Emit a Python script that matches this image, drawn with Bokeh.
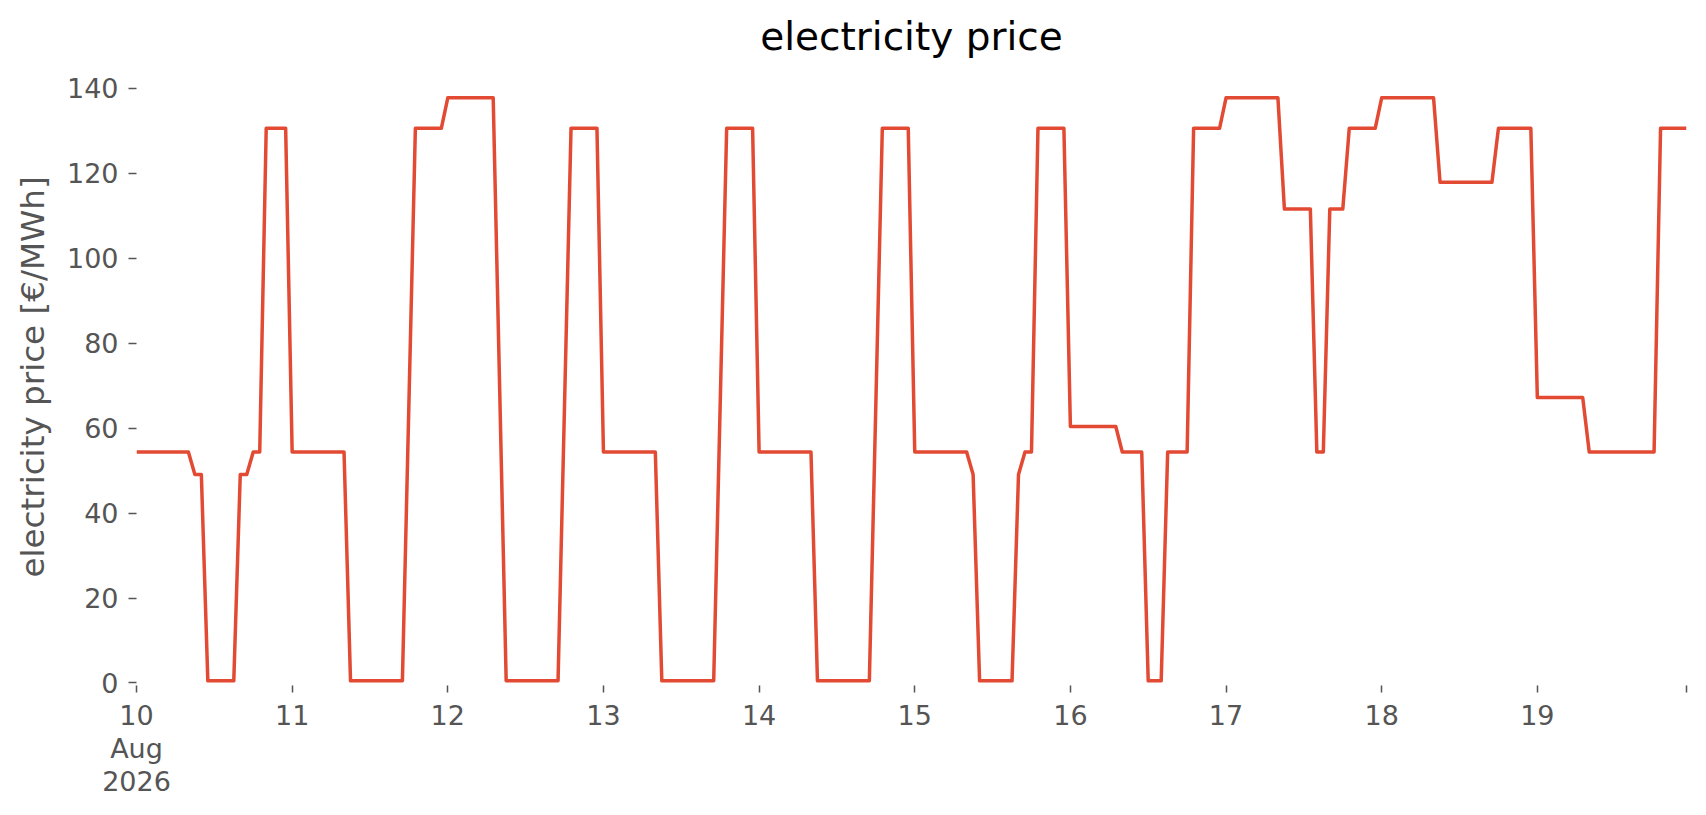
import pandas as pd
from bokeh.plotting import figure
from bokeh.models import Range1d, FixedTicker
from bokeh.embed import file_html
from bokeh.resources import INLINE

# hourly electricity price [€/MWh], one list per day (00:00 ... 23:00)
day_10 = [54.4, 54.4, 54.4, 54.4, 54.4, 54.4, 54.4, 54.4, 54.4, 49.1, 49.1, 0.5,
          0.5, 0.5, 0.5, 0.5, 49.1, 49.1, 54.4, 54.4, 130.6, 130.6, 130.6, 130.6]
day_11 = [54.4, 54.4, 54.4, 54.4, 54.4, 54.4, 54.4, 54.4, 54.4, 0.5, 0.5, 0.5,
          0.5, 0.5, 0.5, 0.5, 0.5, 0.5, 65.5, 130.6, 130.6, 130.6, 130.6, 130.6]
day_12 = [137.8, 137.8, 137.8, 137.8, 137.8, 137.8, 137.8, 137.8, 69.2, 0.5, 0.5, 0.5,
          0.5, 0.5, 0.5, 0.5, 0.5, 0.5, 65.5, 130.6, 130.6, 130.6, 130.6, 130.6]
day_13 = [54.4, 54.4, 54.4, 54.4, 54.4, 54.4, 54.4, 54.4, 54.4, 0.5, 0.5, 0.5,
          0.5, 0.5, 0.5, 0.5, 0.5, 0.5, 65.5, 130.6, 130.6, 130.6, 130.6, 130.6]
day_14 = [54.4, 54.4, 54.4, 54.4, 54.4, 54.4, 54.4, 54.4, 54.4, 0.5, 0.5, 0.5,
          0.5, 0.5, 0.5, 0.5, 0.5, 0.5, 65.5, 130.6, 130.6, 130.6, 130.6, 130.6]
day_15 = [54.4, 54.4, 54.4, 54.4, 54.4, 54.4, 54.4, 54.4, 54.4, 49.1, 0.5, 0.5,
          0.5, 0.5, 0.5, 0.5, 49.1, 54.4, 54.4, 130.6, 130.6, 130.6, 130.6, 130.6]
day_16 = [60.4, 60.4, 60.4, 60.4, 60.4, 60.4, 60.4, 60.4, 54.4, 54.4, 54.4, 54.4,
          0.5, 0.5, 0.5, 54.4, 54.4, 54.4, 54.4, 130.6, 130.6, 130.6, 130.6, 130.6]
day_17 = [137.8, 137.8, 137.8, 137.8, 137.8, 137.8, 137.8, 137.8, 137.8, 111.6, 111.6, 111.6,
          111.6, 111.6, 54.4, 54.4, 111.6, 111.6, 111.6, 130.6, 130.6, 130.6, 130.6, 130.6]
day_18 = [137.8, 137.8, 137.8, 137.8, 137.8, 137.8, 137.8, 137.8, 137.8, 117.9, 117.9, 117.9,
          117.9, 117.9, 117.9, 117.9, 117.9, 117.9, 130.6, 130.6, 130.6, 130.6, 130.6, 130.6]
day_19 = [67.2, 67.2, 67.2, 67.2, 67.2, 67.2, 67.2, 67.2, 54.4, 54.4, 54.4, 54.4,
          54.4, 54.4, 54.4, 54.4, 54.4, 54.4, 54.4, 130.6, 130.6, 130.6, 130.6, 130.6]

start_time = "2026-08-10 00:00"
x_tick_times = ["2026-08-10", "2026-08-11", "2026-08-12", "2026-08-13", "2026-08-14",
                "2026-08-15", "2026-08-16", "2026-08-17", "2026-08-18", "2026-08-19",
                "2026-08-19 23:00"]
x_tick_labels = ["10\nAug\n2026", "11", "12", "13", "14", "15", "16", "17", "18", "19", ""]
y_ticks = [0, 20, 40, 60, 80, 100, 120, 140]

price = (day_10 + day_11 + day_12 + day_13 + day_14 +
         day_15 + day_16 + day_17 + day_18 + day_19)
times = pd.date_range(start_time, periods=len(price), freq="h")

FONT = "DejaVu Sans"
GRAY = "#555555"

p = figure(width=1690, height=807, x_axis_type="datetime",
           output_backend="svg", toolbar_location=None,
           x_range=Range1d(times[0], times[-1]),
           y_range=Range1d(-0.6, 144.7),
           min_border_left=136, min_border_right=4,
           min_border_top=68, min_border_bottom=122,
           title="electricity price")

p.line(times, price, line_color="#E24A33", line_width=3.5, line_join="round")

p.background_fill_color = "white"
p.border_fill_color = "white"
p.outline_line_color = None
p.grid.visible = False

p.title.align = "center"
p.title.text_font = FONT
p.title.text_font_size = "39px"
p.title.text_font_style = "normal"
p.title.text_color = "#000000"
p.title.standoff = 19

tick_ms = [pd.Timestamp(t).value / 1e6 for t in x_tick_times]
p.xaxis.ticker = FixedTicker(ticks=tick_ms, minor_ticks=[])
p.xaxis.major_label_overrides = {ms: lab for ms, lab in zip(tick_ms, x_tick_labels)}
p.yaxis.ticker = FixedTicker(ticks=y_ticks, minor_ticks=[])

for ax in p.axis:
    ax.axis_line_color = None
    ax.major_tick_line_color = GRAY
    ax.major_tick_line_width = 1.5
    ax.major_tick_in = 0
    ax.minor_tick_line_color = None
    ax.major_label_text_font = FONT
    ax.major_label_text_font_size = "27px"
    ax.major_label_text_color = GRAY

p.xaxis.major_tick_out = 7
p.xaxis.major_label_standoff = 7
p.xaxis.major_label_text_line_height = 1.07
p.yaxis.major_tick_out = 8
p.yaxis.major_label_standoff = 10

p.yaxis.axis_label = "electricity price [€/MWh]"
p.yaxis.axis_label_text_font = FONT
p.yaxis.axis_label_text_font_size = "32.6px"
p.yaxis.axis_label_text_font_style = "normal"
p.yaxis.axis_label_text_color = GRAY
p.yaxis.axis_label_standoff = 12

open("out.html", "w").write(file_html(p, INLINE))
